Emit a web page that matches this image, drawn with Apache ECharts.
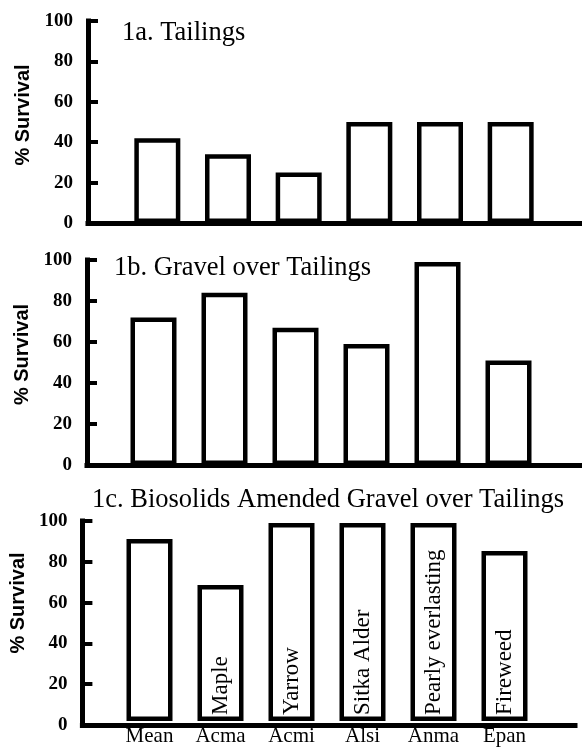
<!DOCTYPE html>
<html>
<head>
<meta charset="utf-8">
<script src="https://cdn.jsdelivr.net/npm/echarts@6/dist/echarts.min.js"></script>
<style>
html,body{margin:0;padding:0;background:#fff;}
#chart{width:582px;height:747px;}
</style>
</head>
<body>
<div id="chart"></div>
<script>
// ---- data ----
var categories = ['Mean', 'Acma', 'Acmi', 'Alsi', 'Anma', 'Epan'];
var commonNames = ['', 'Maple', 'Yarrow', 'Sitka Alder', 'Pearly everlasting', 'Fireweed'];
var tailings = [42, 34, 25, 50, 50, 50];
var gravelOverTailings = [72, 84, 67, 59, 99, 51];
var biosolidsGravel = [91, 68, 99, 99, 99, 85];
var panelTitles = ['1a. Tailings', '1b. Gravel over Tailings', '1c. Biosolids Amended Gravel over Tailings'];
var yAxisName = '% Survival';
var yMin = 0, yMax = 100, yStep = 20;

// ---- layout (not data) ----
var panels = [
  { values: tailings, top: 21, height: 202, axisX: 88, axisRight: 0, bandL: 122, bandR: 546, titleL: 122, titleT: 20, namePad: 14, showX: false },
  { values: gravelOverTailings, top: 260, height: 205, axisX: 87, axisRight: 2, bandL: 118, bandR: 544, titleL: 114, titleT: 255, namePad: 16, showX: false },
  { values: biosolidsGravel, top: 521, height: 204, axisX: 79, axisRight: 7, bandL: 114, bandR: 540, titleL: 92, titleT: 487, namePad: 40, showX: true }
];

var W = 582;
var black = '#000';
var serif = 'Liberation Serif';
var sans = 'Liberation Sans';

var option = {
  animation: false,
  backgroundColor: '#fff',
  title: [], grid: [], xAxis: [], yAxis: [], series: []
};

panels.forEach(function (p, k) {
  option.title.push({
    text: panelTitles[k], left: p.titleL, top: p.titleT, padding: 0,
    textStyle: { fontFamily: serif, fontSize: 26.5, fontWeight: 'normal', color: black }
  });
  var gA = option.grid.length;
  option.grid.push({ left: p.axisX, right: p.axisRight, top: p.top, height: p.height, containLabel: false });
  var gB = option.grid.length;
  option.grid.push({ left: p.bandL, right: W - p.bandR, top: p.top, height: p.height, containLabel: false });

  // axis frame grid (drawn above the bars)
  option.xAxis.push({
    gridIndex: gA, type: 'value', min: 0, max: 1, z: 10,
    axisLine: { show: true, onZero: false, lineStyle: { color: black, width: 5, cap: 'square' } },
    axisTick: { show: false }, axisLabel: { show: false }, splitLine: { show: false }
  });
  option.yAxis.push({
    gridIndex: gA, type: 'value', min: yMin, max: yMax, interval: yStep, z: 10,
    axisLine: { show: true, onZero: false, lineStyle: { color: black, width: 5, cap: 'square' } },
    axisTick: { show: true, inside: true, length: 10, lineStyle: { color: black, width: 4 } },
    axisLabel: { fontFamily: serif, fontWeight: 'bold', fontSize: 19, color: black, margin: 15 },
    splitLine: { show: false },
    name: yAxisName, nameLocation: 'middle', nameGap: 54,
    nameTextStyle: { fontFamily: sans, fontWeight: 'bold', fontSize: 20, color: black, padding: [0, 0, 0, p.namePad] }
  });

  // bar grid
  option.xAxis.push({
    gridIndex: gB, type: 'category', data: categories,
    axisLine: { show: false }, axisTick: { show: false }, splitLine: { show: false },
    axisLabel: { show: p.showX, fontFamily: serif, fontSize: 21, color: black, margin: 5, interval: 0 }
  });
  option.yAxis.push({ gridIndex: gB, type: 'value', min: yMin, max: yMax, show: false });
  var xB = option.xAxis.length - 1, yB = option.yAxis.length - 1;

  var s = {
    type: 'bar', xAxisIndex: xB, yAxisIndex: yB, data: p.values, barWidth: 46,
    itemStyle: { color: '#fff', borderColor: black, borderWidth: 4.5 },
    z: 3
  };
  if (p.showX) {
    s.label = {
      show: true, position: 'insideBottom', rotate: 90, align: 'left', verticalAlign: 'middle',
      distance: 6, fontFamily: serif, fontSize: 23, color: black,
      formatter: function (d) { return commonNames[d.dataIndex]; }
    };
  }
  option.series.push(s);
});

var chart = echarts.init(document.getElementById('chart'), null, { renderer: 'canvas' });
chart.setOption(option);
</script>
</body>
</html>
